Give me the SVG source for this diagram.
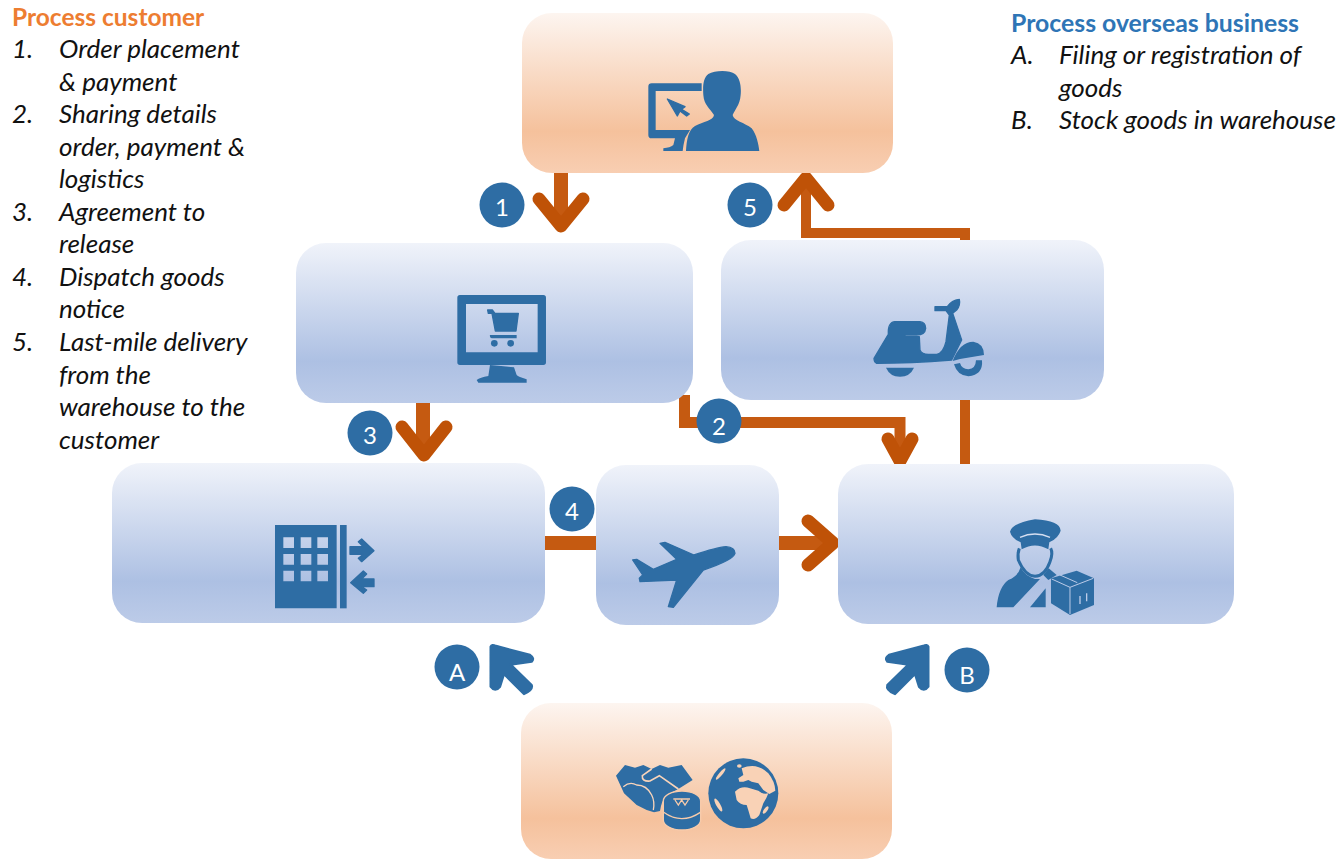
<svg xmlns="http://www.w3.org/2000/svg" width="1341" height="859" viewBox="0 0 1341 859">
<style>
text{font-family:Lato,"Open Sans","Liberation Sans",sans-serif}
.t{font-size:26px;font-style:italic;fill:#111}
.ho{font-size:24.500px;font-weight:700;fill:#ed7d31}
.hb{font-size:24.800px;font-weight:700;fill:#2e75b6}
.b{fill:#2e6da4}
.l{font-size:24px;fill:#fff;text-anchor:middle}
.blue{fill:url(#gb)}
.or{fill:url(#go)}
.ic{fill:#2e6da4;filter:url(#soft)}
.fat{stroke:#2e6da4;stroke-width:4;stroke-linejoin:round}
.sh{fill:none;stroke:#c55a11}
.hd{fill:none;stroke:#bf5207;stroke-width:13;stroke-linecap:round;stroke-linejoin:round}
</style>
<defs>
<linearGradient id="gb" x1="0" y1="0" x2="0" y2="1"><stop offset="0" stop-color="#f0f3fa"/><stop offset=".74" stop-color="#adc0e3"/><stop offset="1" stop-color="#bccbe8"/></linearGradient>
<linearGradient id="go" x1="0" y1="0" x2="0" y2="1"><stop offset="0" stop-color="#fdf5f0"/><stop offset=".74" stop-color="#f5c19c"/><stop offset="1" stop-color="#f8ceb2"/></linearGradient>
<filter id="soft" x="-5%" y="-5%" width="110%" height="110%"><feGaussianBlur stdDeviation=".45"/></filter>
<path id="blue-arrow" d="M212 50Q215 42 228 48L330 75Q345 85 335 95L272 104L335 165Q340 180 312 192L252 132L240 170Q225 188 212 170Z" fill="#2e6da4" stroke="#2e6da4" stroke-width="7" stroke-linejoin="round" filter="url(#soft)"/>
</defs>
<rect width="1341" height="859" fill="#fff"/>

<g id="legend-customer">
<text class="ho" x="12" y="26">Process customer</text>
<text class="t" x="12" y="58">1.</text><text class="t" x="59" y="58">Order placement</text>
<text class="t" x="59" y="91">&amp; payment</text>
<text class="t" x="12" y="123">2.</text><text class="t" x="59" y="123">Sharing details</text>
<text class="t" x="59" y="156">order, payment &amp;</text>
<text class="t" x="59" y="188">logistics</text>
<text class="t" x="12" y="221">3.</text><text class="t" x="59" y="221">Agreement to</text>
<text class="t" x="59" y="253">release</text>
<text class="t" x="12" y="286">4.</text><text class="t" x="59" y="286">Dispatch goods</text>
<text class="t" x="59" y="318">notice</text>
<text class="t" x="12" y="351">5.</text><text class="t" x="59" y="351">Last-mile delivery</text>
<text class="t" x="59" y="384">from the</text>
<text class="t" x="59" y="416">warehouse to the</text>
<text class="t" x="59" y="449">customer</text>
</g>
<g id="legend-overseas">
<text class="hb" x="1011" y="32">Process overseas business</text>
<text class="t" x="1011" y="64">A.</text><text class="t" x="1059" y="64">Filing or registration of</text>
<text class="t" x="1059" y="97">goods</text>
<text class="t" x="1011" y="129">B.</text><text class="t" x="1059" y="129">Stock goods in warehouse</text>
</g>

<g id="connectors">
<path class="sh" stroke-width="14" d="M561 173V224"/><path class="hd" d="M539 199L561 226L583 199"/>
<path class="sh" stroke-width="14" d="M423 403V453"/><path class="hd" d="M402 427L424 455L446 427"/>
<path class="sh" stroke-width="11" d="M684.500 395V422.500H900V455"/><path class="hd" d="M888 439L900 461L912 439" stroke-width="11"/>
<path class="sh" stroke-width="14" d="M545 543H832"/><path class="hd" d="M808 521L833 543L808 565"/>
<path class="sh" stroke-width="10" d="M965 465V233H806V185"/><path class="hd" d="M784 205L806 178L828 205"/>
<use href="#blue-arrow" transform="translate(420 630) scale(.3333)"/>
<use href="#blue-arrow" transform="translate(999 630) scale(-.3333 .3333)"/>
</g>

<g id="node-customer">
<rect class="or" x="522" y="13" width="371" height="160" rx="30"/>
<g class="ic" transform="translate(620 50) scale(.3333)">
<path d="M245 100H95Q85 100 85 110V255Q85 265 95 265H165L160 285Q150 293 130 295V303H188Q190 285 195 265L210 240H107V123H245Z"/>
<path class="fat" d="M142 147L195 170L185 178L208 192L200 198L180 183L172 198Z"/>
<path d="M198 303C200 270 205 240 225 228C250 215 280 212 282 195C270 175 252 165 250 135C248 105 250 85 265 72C285 60 330 60 345 72C362 85 364 115 362 135C360 165 345 178 338 195C340 212 375 218 395 235C410 255 415 280 418 303Z"/>
</g>
</g>

<g id="node-platform">
<rect class="blue" x="296" y="243" width="397" height="160" rx="30"/>
<g class="ic" transform="translate(440 280) scale(.3333)">
<path fill-rule="evenodd" d="M60 45H310Q318 45 318 53V247Q318 255 310 255H60Q52 255 52 247V53Q52 45 60 45ZM78 72V217H293V72Z"/>
<path d="M150 255L145 288Q120 292 110 300L115 308H260V298Q235 290 230 285L222 262Q190 258 150 255Z"/>
<path class="fat" d="M143 90H157L165 100H235L228 153H166L156 100H145Z"/>
<path d="M150 165H230V175H155Q148 172 150 165Z"/>
<circle cx="163" cy="190" r="10"/><circle cx="212" cy="190" r="10"/>
</g>
</g>

<g id="node-scooter">
<rect class="blue" x="721" y="240" width="383" height="160" rx="30"/>
<g class="ic" transform="translate(860 285) scale(.3333)">
<path class="fat" d="M42 220L85 148Q83 112 105 110H180Q197 112 197 130Q195 150 170 150H135V155H178L180 195Q185 208 205 208H230Q250 205 258 170L268 90L258 77H225V65L262 65Q275 45 298 43Q302 60 290 75L278 85L305 165L275 225Q150 235 50 235Q42 232 42 220Z"/>
<path d="M278 228Q300 170 340 170Q372 175 372 210L300 222Z"/>
<path d="M78 248H162Q150 275 120 275Q90 275 78 248Z"/>
<path d="M282 238L300 234Q305 252 325 253Q347 252 348 226H366Q370 270 325 274Q292 272 282 238Z"/>
</g>
</g>

<g id="node-warehouse">
<rect class="blue" x="112" y="463" width="433" height="160" rx="30"/>
<g class="ic" transform="translate(260 510) scale(.3333)">
<path fill-rule="evenodd" d="M45 45H230V295H45ZM70 82V114H102V82ZM122 82V114H154V82ZM172 82V114H204V82ZM70 132V164H102V132ZM122 132V164H154V132ZM172 132V164H204V132ZM70 182V214H102V182ZM122 182V214H154V182ZM172 182V214H204V182Z"/>
<rect x="240" y="45" width="20" height="250"/>
<path class="fat" d="M270 110H310L295 95L305 87L342 122L305 155L295 145L310 133H270Z"/>
<path class="fat" d="M342 207H305L320 192L310 183L272 218L310 250L320 240L305 230H342Z"/>
</g>
</g>

<g id="node-flight">
<rect class="blue" x="596" y="465" width="183" height="160" rx="30"/>
<g class="ic" transform="translate(620 530) scale(.3333)">
<path class="fat" d="M345 70Q345 52 318 50Q290 52 222 75L135 37L120 40L170 88L100 118L50 88L38 90L68 135L58 145L60 155L170 150L145 230L160 232L250 120Q340 90 345 70Z"/>
</g>
</g>

<g id="node-courier">
<rect class="blue" x="838" y="464" width="396" height="160" rx="30"/>
<g class="ic" transform="translate(980 510) scale(.3333)">
<path d="M90 65Q95 40 165 28Q240 32 242 62Q235 85 208 97L205 118Q165 95 125 118L122 97Q95 85 90 65Z"/>
<path d="M120 82Q165 62 210 82" fill="none" stroke="#d6dff1" stroke-width="4"/>
<path d="M118 115Q112 130 115 150Q135 197 165 199Q195 197 210 155Q220 130 212 115" fill="none" stroke="#2e6da4" stroke-width="9"/>
<path d="M50 292Q55 232 85 210Q115 198 122 172Q135 198 165 207H180L100 292Z"/>
<path d="M150 292L197 235V292Z"/>
<path d="M206 175L230 195L205 210L190 195Z"/>
<path d="M213 205L290 182L342 205V285L270 315L213 280Z"/>
<path d="M215 207L270 232L340 205M270 232V312M240 195L292 218" fill="none" stroke="#bccbe8" stroke-width="3"/>
<path d="M300 282V258M320 274V250" fill="none" stroke="#bccbe8" stroke-width="4"/>
</g>
</g>

<g id="node-overseas">
<rect class="or" x="521" y="703" width="371" height="156" rx="30"/>
<g class="ic" transform="translate(610 755) scale(.3333)">
<path d="M18 62L45 30L75 38L100 30L125 42L150 30L175 38L215 30L248 75L205 102L170 120Q155 135 150 168L132 172L110 165L80 150L42 115Z"/>
<path d="M40 95Q60 78 80 90Q110 90 125 120Q135 140 130 165" fill="none" stroke="#f9d4ba" stroke-width="4"/>
<path d="M205 102L148 62L120 78Q95 80 97 62L125 42" fill="none" stroke="#f9d4ba" stroke-width="5"/>
<path d="M160 138A56 30 0 0 1 272 138V195A56 30 0 0 1 160 195Z" stroke="#f7cbab" stroke-width="4"/>
<path d="M161 172Q215 210 271 172" fill="none" stroke="#f7cbab" stroke-width="4"/>
<path d="M195 135L205 150L215 135L225 150L235 135M190 132H240" fill="none" stroke="#f7cbab" stroke-width="4"/>
</g>
<g class="ic" transform="translate(700 750) scale(.3333)">
<circle cx="130" cy="130" r="105"/>
<g fill="#f9d2b6">
<path d="M105 125Q125 105 150 115L175 122Q190 135 205 130Q200 145 190 160L178 195Q165 212 152 205Q145 180 140 165Q120 165 110 150Z"/>
<path d="M125 55Q170 35 205 70Q225 95 226 122L208 132L190 120L175 100L155 95L145 90L130 95L118 95L115 85L130 75Z"/>
<ellipse cx="118" cy="48" rx="7" ry="5"/>
<ellipse cx="197" cy="180" rx="5" ry="13" transform="rotate(35 197 180)"/>
<ellipse cx="62" cy="72" rx="5" ry="22" transform="rotate(40 62 72)"/>
<ellipse cx="55" cy="165" rx="6" ry="22" transform="rotate(-30 55 165)"/>
</g>
</g>
</g>

<g id="badges">
<circle class="b" cx="502" cy="205" r="22.500"/><text class="l" x="502" y="216">1</text>
<circle class="b" cx="750" cy="205" r="22.500"/><text class="l" x="750" y="216">5</text>
<circle class="b" cx="370" cy="433" r="22.500"/><text class="l" x="370" y="444">3</text>
<circle class="b" cx="719" cy="421" r="22.500"/><text class="l" x="719" y="435">2</text>
<circle class="b" cx="572" cy="509" r="22.500"/><text class="l" x="572" y="520">4</text>
<circle class="b" cx="457" cy="667" r="22.500"/><text class="l" x="457" y="681">A</text>
<circle class="b" cx="967" cy="670" r="22.500"/><text class="l" x="967" y="684">B</text>
</g>
</svg>
